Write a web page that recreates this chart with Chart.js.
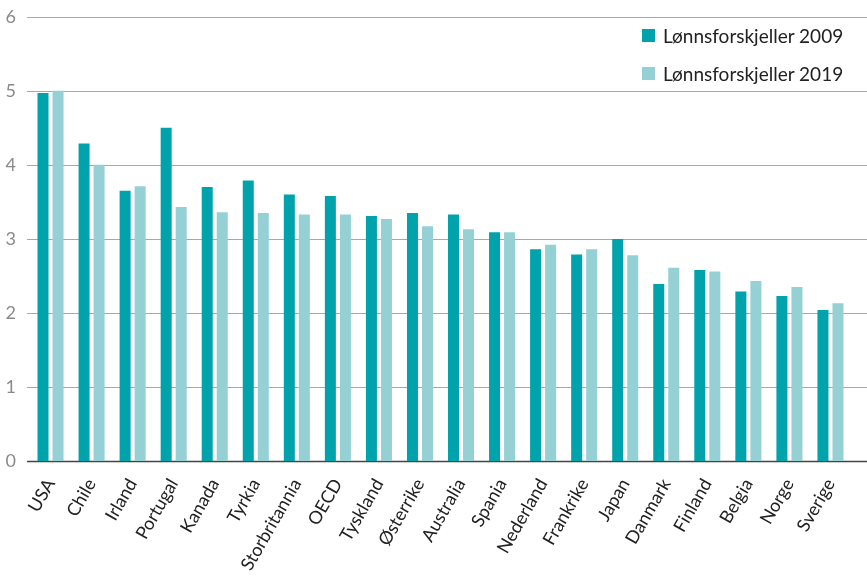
<!DOCTYPE html>
<html>
<head>
<meta charset="utf-8">
<script src="https://cdn.jsdelivr.net/npm/chart.js@4.4.1/dist/chart.umd.min.js"></script>
<style>
  html, body { margin: 0; padding: 0; background: #fff; }
  #wrap { position: relative; width: 867px; height: 581px; }
  #legend { position: absolute; left: 642px; top: 25px; font-family: Lato, "Open Sans", sans-serif; font-size: 19px; color: #222; }
  .item { display: flex; align-items: center; height: 21px; margin-bottom: 17px; }
  .sw { width: 13px; height: 13px; margin-right: 8px; }
</style>
</head>
<body>
<div id="wrap">
  <canvas id="c" width="867" height="581"></canvas>
  <div id="legend"></div>
</div>
<script>
const categories = ["USA","Chile","Irland","Portugal","Kanada","Tyrkia","Storbritannia","OECD","Tyskland","Østerrike","Australia","Spania","Nederland","Frankrike","Japan","Danmark","Finland","Belgia","Norge","Sverige"];
const values2009 = [4.97,4.29,3.65,4.50,3.70,3.79,3.60,3.58,3.31,3.35,3.33,3.09,2.86,2.79,3.00,2.39,2.58,2.29,2.23,2.04];
const values2019 = [5.00,4.00,3.71,3.43,3.36,3.35,3.33,3.33,3.27,3.17,3.13,3.09,2.92,2.86,2.78,2.61,2.56,2.43,2.35,2.13];
const seriesNames = ["Lønnsforskjeller 2009","Lønnsforskjeller 2019"];
const yTicks = [0,1,2,3,4,5,6];

const colors = ["#00a3ab","#95d0d4"];

const legendEl = document.getElementById('legend');
seriesNames.forEach((n, i) => {
  const d = document.createElement('div');
  d.className = 'item';
  d.innerHTML = '<span class="sw" style="background:' + colors[i] + '"></span><span>' + n + '</span>';
  legendEl.appendChild(d);
});

const gridPlugin = {
  id: 'wideGrid',
  beforeDatasetsDraw(chart) {
    const ctx = chart.ctx;
    const y = chart.scales.y;
    ctx.save();
    yTicks.forEach(t => {
      const py = Math.round(y.getPixelForValue(t)) + 0.5;
      ctx.beginPath();
      if (t === 0) { ctx.strokeStyle = '#444'; ctx.lineWidth = 1.5; }
      else { ctx.strokeStyle = '#a8a8a8'; ctx.lineWidth = 1; }
      ctx.moveTo(27, py);
      ctx.lineTo(867, py);
      ctx.stroke();
    });
    ctx.restore();
  }
};

new Chart(document.getElementById('c'), {
  type: 'bar',
  data: {
    labels: categories,
    datasets: [
      { label: seriesNames[0], data: values2009, backgroundColor: colors[0], categoryPercentage: 0.732, barPercentage: 0.733 },
      { label: seriesNames[1], data: values2019, backgroundColor: colors[1], categoryPercentage: 0.732, barPercentage: 0.733 }
    ]
  },
  options: {
    responsive: false,
    animation: false,
    layout: { padding: { top: 6, right: 16, left: 0, bottom: 0 } },
    plugins: { legend: { display: false }, tooltip: { enabled: false } },
    scales: {
      x: {
        grid: { display: false },
        border: { display: false },
        ticks: {
          color: '#222',
          font: { family: 'Lato', size: 18 },
          maxRotation: 60, minRotation: 60,
          padding: 6,
          autoSkip: false
        },
        afterFit(s) { s.height = 120; }
      },
      y: {
        min: 0, max: 6,
        grid: { display: false },
        border: { display: false },
        ticks: {
          stepSize: 1,
          color: '#8a8a8a',
          font: { family: 'Lato', size: 18 },
          padding: 6
        },
        afterFit(s) { s.width = 30; }
      }
    }
  },
  plugins: [gridPlugin]
});
</script>
</body>
</html>
